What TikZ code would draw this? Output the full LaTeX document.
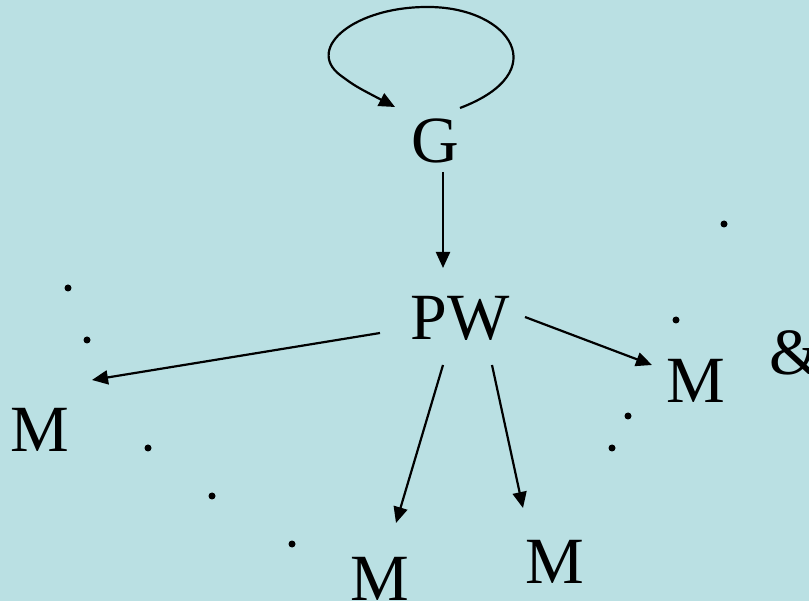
\documentclass[tikz,border=0pt]{standalone}
\usepackage{fontspec}
\setmainfont{Liberation Serif}
\usepackage{xcolor}
\usetikzlibrary{arrows.meta}

\definecolor{slidebg}{RGB}{186,224,227}

\begin{document}
\begin{tikzpicture}[x=1pt,y=-1pt,
    lbl/.style={anchor=base,inner sep=0pt,font=\fontsize{66}{70}\selectfont},
    arr/.style={line width=2.2pt,-{Triangle[length=16pt,width=14pt]}}]
          \fill[slidebg] (0,0) rectangle (809,601);
          \useasboundingbox (0,0) rectangle (809,601);

          % Labels
          \node[lbl] (G)  at (435,163) {G};
          \node[lbl] (PW) at (460,340) {PW};
          \node[lbl] (M1) at (40,452)  {M};
          \node[lbl] (M2) at (380,600) {M};
          \node[lbl] (M3) at (555,583) {M};
          \node[lbl] (M4) at (696,403) {M};
          \node[lbl] (amp) at (795,375) {\&};

          % Arrow ends
          \coordinate (g-out)  at (460,108);
          \coordinate (g-in)   at (395,107);
          \coordinate (g-s)    at (443,172);
          \coordinate (pw-n)   at (443,268);
          \coordinate (pw-w)   at (380,333);
          \coordinate (pw-e)   at (525,317);
          \coordinate (pw-sw)  at (443,365);
          \coordinate (pw-se)  at (492,365);
          \coordinate (m1-tip) at (92,380);
          \coordinate (m2-tip) at (396,523);
          \coordinate (m3-tip) at (523,508);
          \coordinate (m4-tip) at (652,365);

          % Loop on G
          \draw[arr] (g-out) .. controls (555,72) and (510,8) .. (430,7)
                .. controls (355,6) and (305,48) .. (340,75)
                .. controls (355,86) .. (g-in);

          % Edges
          \draw[arr] (g-s) -- (pw-n);
          \draw[arr] (pw-w) -- (m1-tip);
          \draw[arr] (pw-e) -- (m4-tip);
          \draw[arr] (pw-sw) -- (m2-tip);
          \draw[arr] (pw-se) -- (m3-tip);

          % Dots
          \foreach \i/\j in {
              68/288, 87/340,
            148/448, 212/496, 292/544,
            724/224, 676/320,
            628/416, 612/448
          } {
              \fill (\i,\j) circle (3.5pt);
          }
      \end{tikzpicture}
\end{document}
